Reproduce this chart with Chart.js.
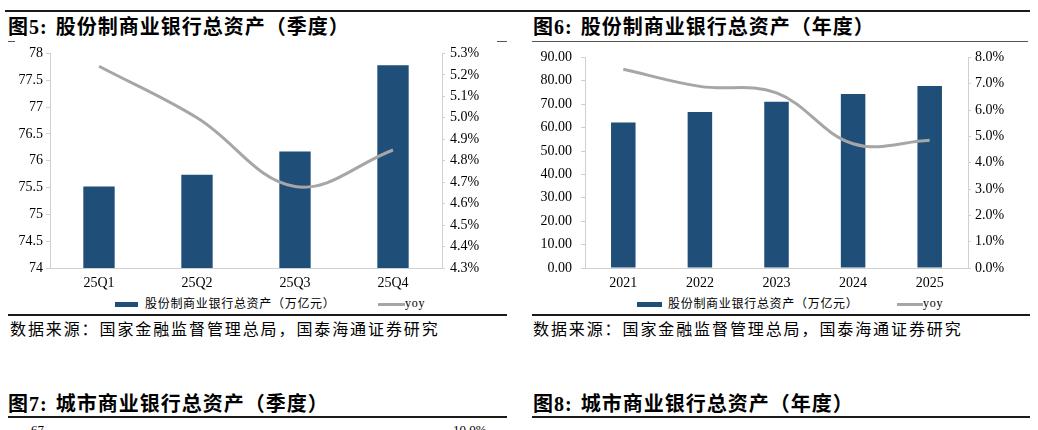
<!DOCTYPE html>
<html>
<head>
<meta charset="utf-8">
<script src="https://cdn.jsdelivr.net/npm/chart.js@4"></script>
<style>
  html, body { margin: 0; padding: 0; }
  body { width: 1038px; height: 430px; overflow: hidden; background: #fff; position: relative;
         font-family: "Liberation Serif", "Noto Sans CJK SC", serif; color: #000; }
  .abs { position: absolute; }
  .rule { position: absolute; background: #1a1a1a; }
  .title { position: absolute; font-size: 20px; font-weight: bold; line-height: 24px; letter-spacing: 1px; white-space: nowrap; }
  .title span { margin-right: 8px; }
  .source { position: absolute; font-size: 16px; line-height: 20px; letter-spacing: 1.9px; white-space: nowrap;
            font-family: "Noto Sans CJK SC", sans-serif; }
  .leg { position: absolute; font-size: 12px; line-height: 14px; white-space: nowrap; letter-spacing: 0.7px;
         font-family: "Liberation Serif", "Noto Sans CJK SC", serif; }
  .swatch { position: absolute; }
  .frag { position: absolute; font-size: 13px; line-height: 15px; }
</style>
</head>
<body>
<div class="rule" style="left:5px;top:10px;width:1025px;height:2px;"></div>

<div class="title" style="left:8px;top:15px;"><span>图5:</span>股份制商业银行总资产（季度）</div>
<div class="title" style="left:533px;top:15px;"><span>图6:</span>股份制商业银行总资产（年度）</div>
<div class="rule" style="left:8px;top:41px;width:7px;height:1px;background:#555;"></div>
<div class="rule" style="left:497px;top:41px;width:10px;height:1px;background:#555;"></div>
<div class="rule" style="left:532px;top:41px;width:496px;height:1px;background:#555;"></div>

<div class="abs" style="left:0;top:40px;width:518px;height:254px;"><canvas id="quarterChart" width="518" height="254"></canvas></div>
<div class="abs" style="left:520px;top:40px;width:518px;height:254px;"><canvas id="yearChart" width="518" height="254"></canvas></div>

<!-- legends -->
<div class="swatch" style="left:115px;top:302px;width:23px;height:5px;background:#1f4e79;"></div>
<div class="leg" style="left:145px;top:297px;">股份制商业银行总资产（万亿元）</div>
<div class="swatch" style="left:378px;top:303px;width:27px;height:3px;background:#a6a6a6;"></div>
<div class="leg" style="left:405px;top:296px;">yoy</div>

<div class="swatch" style="left:637px;top:302px;width:25px;height:5px;background:#1f4e79;"></div>
<div class="leg" style="left:668px;top:297px;">股份制商业银行总资产（万亿元）</div>
<div class="swatch" style="left:897px;top:303px;width:26px;height:3px;background:#a6a6a6;"></div>
<div class="leg" style="left:923px;top:296px;">yoy</div>

<div class="rule" style="left:8px;top:314px;width:499px;height:2px;"></div>
<div class="rule" style="left:532px;top:314px;width:498px;height:2px;"></div>
<div class="source" style="left:10px;top:318px;">数据来源：国家金融监督管理总局，国泰海通证券研究</div>
<div class="source" style="left:533px;top:318px;">数据来源：国家金融监督管理总局，国泰海通证券研究</div>

<div class="title" style="left:8px;top:392px;"><span>图7:</span>城市商业银行总资产（季度）</div>
<div class="title" style="left:533px;top:392px;"><span>图8:</span>城市商业银行总资产（年度）</div>
<div class="rule" style="left:8px;top:416px;width:499px;height:1.5px;"></div>
<div class="rule" style="left:532px;top:416px;width:498px;height:1.5px;"></div>
<div class="frag" style="left:31px;top:422px;">67</div>
<div class="frag" style="left:453px;top:422px;">10.0%</div>

<script>
// quarterly (2025)
const quarterLabels = ['25Q1', '25Q2', '25Q3', '25Q4'];
const quarterAssets = [75.52, 75.74, 76.17, 77.78];
const quarterYoy = [5.24, 5.00, 4.68, 4.85];
const quarterAssetTicks = [74, 74.5, 75, 75.5, 76, 76.5, 77, 77.5, 78];
const quarterYoyTicks = [4.3, 4.4, 4.5, 4.6, 4.7, 4.8, 4.9, 5.0, 5.1, 5.2, 5.3];

// yearly
const yearLabels = ['2021', '2022', '2023', '2024', '2025'];
const yearAssets = [62.2, 66.7, 71.1, 74.4, 77.8];
const yearYoy = [7.55, 6.90, 6.65, 4.72, 4.85];
const yearAssetTicks = [0, 10, 20, 30, 40, 50, 60, 70, 80, 90];
const yearYoyTicks = [0, 1, 2, 3, 4, 5, 6, 7, 8];

const barColor = '#1f4e79';
const lineColor = '#a6a6a6';
const axisColor = '#d0d0d0';
const tickFont = { family: 'Liberation Serif', size: 14 };

function makeChart(canvas, o) {
  return new Chart(canvas.getContext('2d'), {
    data: {
      labels: o.labels,
      datasets: [
        {
          type: 'line',
          label: 'yoy',
          data: o.yoy,
          yAxisID: 'y1',
          borderColor: lineColor,
          borderWidth: 3,
          pointRadius: 0,
          tension: 0.38,
          fill: false,
          order: 0
        },
        {
          type: 'bar',
          label: '股份制商业银行总资产（万亿元）',
          data: o.assets,
          yAxisID: 'y',
          backgroundColor: barColor,
          categoryPercentage: 1,
          barPercentage: 0.32,
          order: 1
        }
      ]
    },
    options: {
      responsive: false,
      devicePixelRatio: 1,
      animation: false,
      layout: { padding: { top: o.padTop, left: 0, right: 0, bottom: 0 } },
      plugins: { legend: { display: false }, tooltip: { enabled: false } },
      scales: {
        x: {
          offset: true,
          grid: { display: false, drawTicks: false },
          border: { color: axisColor },
          ticks: { font: tickFont, color: '#000', padding: 7 },
          afterFit: (s) => { s.height = 26; }
        },
        y: {
          position: 'left',
          min: o.assetTicks[0],
          max: o.assetTicks[o.assetTicks.length - 1],
          afterBuildTicks: (s) => { s.ticks = o.assetTicks.map(v => ({ value: v })); },
          grid: { drawOnChartArea: false, drawTicks: true, tickLength: 4, color: axisColor },
          border: { color: axisColor },
          ticks: { font: tickFont, color: '#000', padding: o.leftPad, callback: o.assetFmt },
          afterFit: (s) => { s.width = o.leftWidth; }
        },
        y1: {
          position: 'right',
          min: o.yoyTicks[0],
          max: o.yoyTicks[o.yoyTicks.length - 1],
          afterBuildTicks: (s) => { s.ticks = o.yoyTicks.map(v => ({ value: v })); },
          grid: { drawOnChartArea: false, drawTicks: true, tickLength: 3, color: axisColor },
          border: { color: axisColor },
          ticks: { font: tickFont, color: '#000', padding: o.rightPad, callback: (v) => Number(v).toFixed(1) + '%' },
          afterFit: (s) => { s.width = o.rightWidth; }
        }
      }
    }
  });
}

makeChart(document.getElementById('quarterChart'), {
  labels: quarterLabels,
  assets: quarterAssets,
  yoy: quarterYoy,
  assetTicks: quarterAssetTicks,
  yoyTicks: quarterYoyTicks,
  assetFmt: (v) => String(v),
  padTop: 10,
  leftWidth: 50,
  rightWidth: 76,
  leftPad: 3,
  rightPad: 5
});

makeChart(document.getElementById('yearChart'), {
  labels: yearLabels,
  assets: yearAssets,
  yoy: yearYoy,
  assetTicks: yearAssetTicks,
  yoyTicks: yearYoyTicks,
  assetFmt: (v) => Number(v).toFixed(2),
  padTop: 14,
  leftWidth: 65,
  rightWidth: 70,
  leftPad: 9,
  rightPad: 4
});
</script>
</body>
</html>
